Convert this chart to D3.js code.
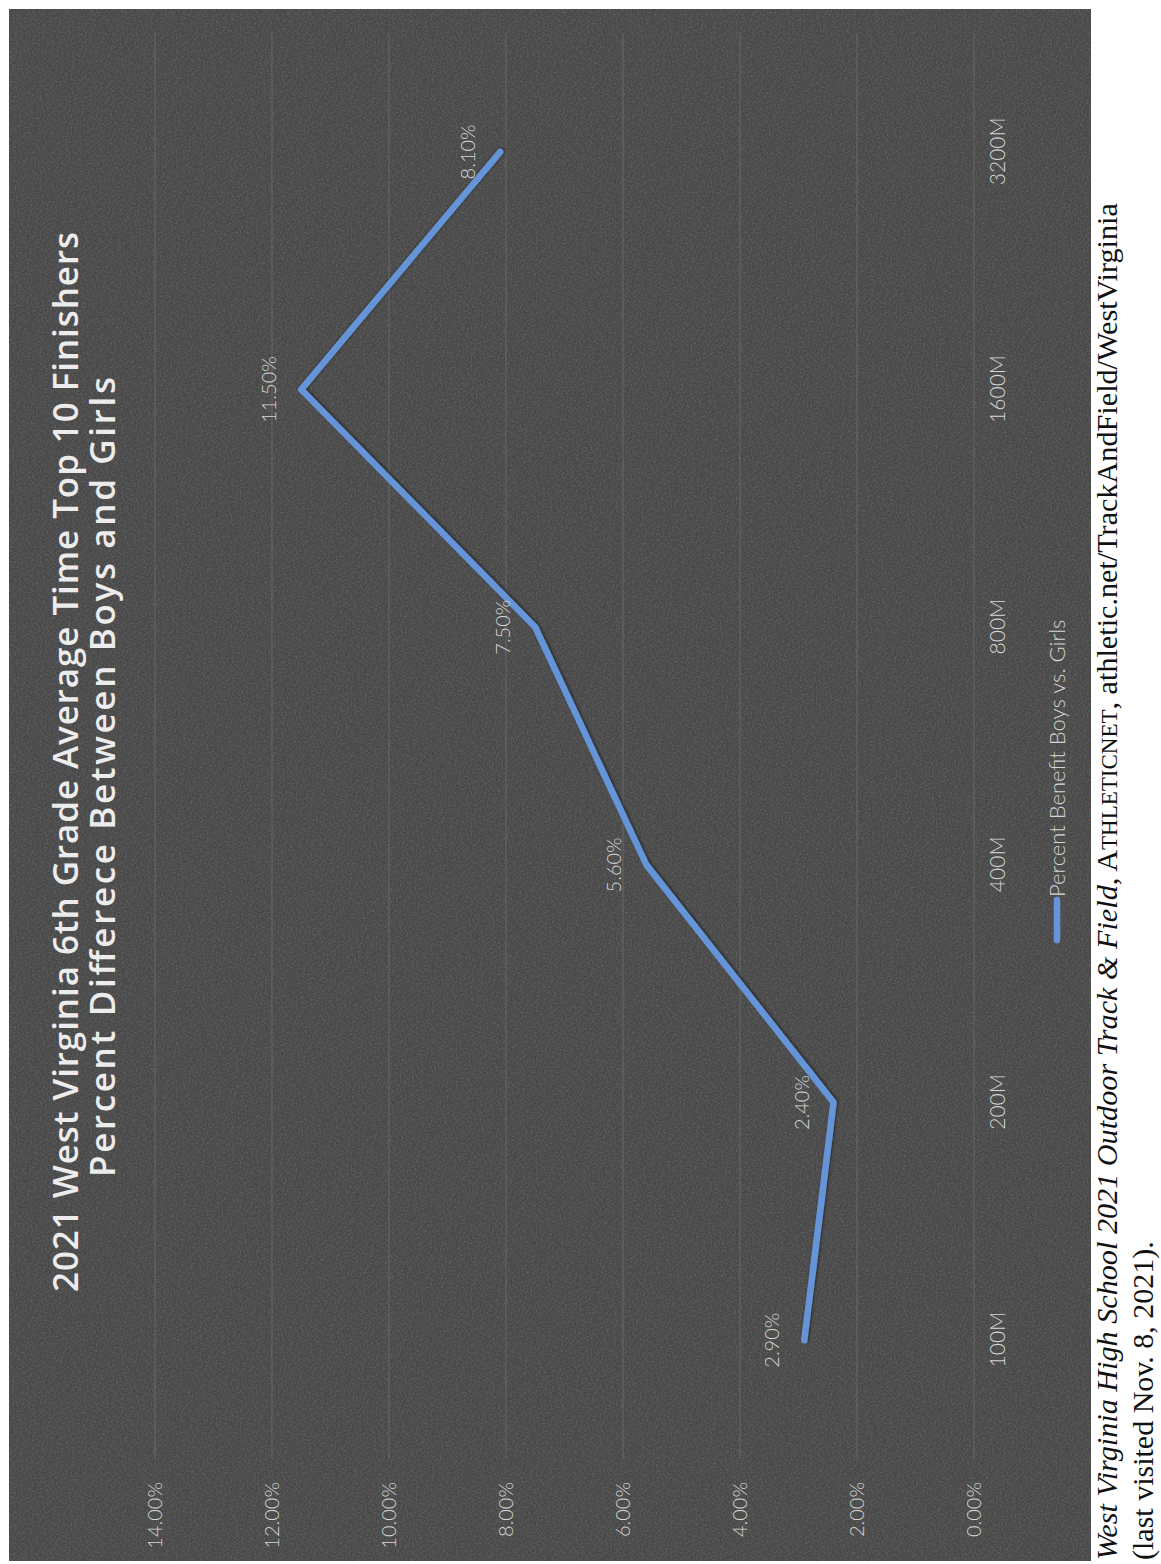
<!DOCTYPE html>
<html>
<head>
<meta charset="utf-8">
<script src="https://cdn.jsdelivr.net/npm/d3@7"></script>
<style>
  html, body { margin: 0; padding: 0; background: #ffffff; }
  svg { display: block; }
</style>
</head>
<body>
<svg id="chart" width="1161" height="1564"></svg>
<script>
// Series and axis content
const categories = ["100M", "200M", "400M", "800M", "1600M", "3200M"];
const percentBenefit = [2.9, 2.4, 5.6, 7.5, 11.5, 8.1];
const valueTicks = [0, 2, 4, 6, 8, 10, 12, 14];
const titleLines = [
  "2021 West Virginia 6th Grade Average Time Top 10 Finishers",
  "Percent Differece Between Boys and Girls"
];
const seriesName = "Percent Benefit Boys vs. Girls";

const W = 1161, H = 1564;
const svg = d3.select("#chart");

// The chart sheet is laid on its side: local u runs bottom→top, local v runs left→right.
const defs = svg.append("defs");
const grain = defs.append("filter").attr("id", "grain")
  .attr("x", 0).attr("y", 0).attr("width", 1).attr("height", 1);
grain.append("feTurbulence").attr("type", "fractalNoise")
  .attr("baseFrequency", 0.55).attr("numOctaves", 2).attr("seed", 7).attr("result", "n");
grain.append("feColorMatrix").attr("in", "n").attr("type", "matrix")
  .attr("values", "0 0 0 0 0.55  0 0 0 0 0.55  0 0 0 0 0.55  1.2 0 0 0 -0.45")
  .attr("result", "g");
grain.append("feComposite").attr("in", "g").attr("in2", "SourceGraphic").attr("operator", "in");

const shadow = defs.append("filter").attr("id", "lineShadow")
  .attr("x", -0.1).attr("y", -0.1).attr("width", 1.2).attr("height", 1.2);
shadow.append("feGaussianBlur").attr("in", "SourceAlpha").attr("stdDeviation", 1.4).attr("result", "b");
shadow.append("feOffset").attr("in", "b").attr("dx", 1.2).attr("dy", 1.2).attr("result", "o");
shadow.append("feComponentTransfer").attr("in", "o").attr("result", "s")
  .append("feFuncA").attr("type", "linear").attr("slope", 0.55);
const m = shadow.append("feMerge");
m.append("feMergeNode").attr("in", "s");
m.append("feMergeNode").attr("in", "SourceGraphic");

const g = svg.append("g").attr("transform", `translate(0,${H}) rotate(-90)`);

// Chart sheet background
const sheet = { u0: 3, u1: 1555, v0: 9, v1: 1091 };
g.append("rect")
  .attr("x", sheet.u0).attr("y", sheet.v0)
  .attr("width", sheet.u1 - sheet.u0).attr("height", sheet.v1 - sheet.v0)
  .attr("fill", "#484848");
g.append("rect")
  .attr("x", sheet.u0).attr("y", sheet.v0)
  .attr("width", sheet.u1 - sheet.u0).attr("height", sheet.v1 - sheet.v0)
  .attr("fill", "#484848").attr("opacity", 0.35)
  .attr("filter", "url(#grain)");

// Scales
const x = d3.scalePoint().domain(categories).range([105, 1531]).padding(0.5);
const y = d3.scaleLinear().domain([0, 14]).range([974, 155]);

// Gridlines
g.append("g").selectAll("line").data(valueTicks).join("line")
  .attr("x1", 105).attr("x2", 1531)
  .attr("y1", d => y(d)).attr("y2", d => y(d))
  .attr("stroke", "#666666").attr("stroke-width", 1.1);

const labelFont = "Lato, 'Open Sans', sans-serif";
const labelFill = "#d6d6d6";

// Value axis labels
const yAxis = d3.axisLeft(y).tickValues(valueTicks)
  .tickFormat(d => d.toFixed(2) + "%").tickSize(0).tickPadding(0);
const yG = g.append("g").attr("transform", "translate(82,0)").call(yAxis);
yG.select(".domain").remove();
yG.selectAll("text").attr("font-family", labelFont).attr("font-size", 20)
  .attr("fill", labelFill).attr("font-weight", 300);

// Category axis labels
const xAxis = d3.axisBottom(x).tickSize(0).tickPadding(0);
const xG = g.append("g").attr("transform", "translate(0,990)").call(xAxis);
xG.select(".domain").remove();
xG.selectAll("text").attr("font-family", labelFont).attr("font-size", 21)
  .attr("fill", labelFill).attr("font-weight", 300);

// Series line
const pts = categories.map((c, i) => ({ c, v: percentBenefit[i] }));
const line = d3.line().x(d => x(d.c)).y(d => y(d.v));
g.append("path").datum(pts)
  .attr("d", line)
  .attr("fill", "none")
  .attr("stroke", "#6595d8")
  .attr("stroke-width", 6.5)
  .attr("stroke-linejoin", "round")
  .attr("stroke-linecap", "round")
  .attr("filter", "url(#lineShadow)");

// Data labels
g.append("g").selectAll("text").data(pts).join("text")
  .attr("x", d => x(d.c))
  .attr("y", d => y(d.v) - 25)
  .attr("text-anchor", "middle")
  .attr("font-family", labelFont).attr("font-size", 20).attr("font-weight", 300)
  .attr("fill", labelFill)
  .text(d => d.v.toFixed(2) + "%");

// Title (two centred lines, fitted to the sheet's title width)
const titleCentre = [802, 787];
const titleWidth = [1060, 800];
g.append("g").selectAll("text").data(titleLines).join("text")
  .attr("x", (d, i) => titleCentre[i])
  .attr("y", (d, i) => 78 + i * 37)
  .attr("text-anchor", "middle")
  .attr("textLength", (d, i) => titleWidth[i])
  .attr("lengthAdjust", "spacing")
  .attr("font-family", "'Open Sans', Lato, sans-serif").attr("font-size", 35).attr("font-weight", 600)
  .attr("fill", "#ececec")
  .text(d => d);

// Legend
const lg = g.append("g");
lg.append("line").attr("x1", 624).attr("x2", 664).attr("y1", 1057).attr("y2", 1057)
  .attr("stroke", "#6595d8").attr("stroke-width", 6.5).attr("stroke-linecap", "round");
lg.append("text").attr("x", 667).attr("y", 1065)
  .attr("font-family", labelFont).attr("font-size", 22).attr("font-weight", 300)
  .attr("fill", labelFill).text(seriesName);

// Source note beside the chart
const serif = "'Liberation Serif', 'DejaVu Serif', serif";
const note1 = g.append("text").attr("x", 4).attr("y", 1117)
  .attr("font-family", serif).attr("font-size", 30.2).attr("fill", "#111");
note1.append("tspan").attr("font-style", "italic")
  .text("West Virginia High School 2021 Outdoor Track & Field");
note1.append("tspan").text(", ");
note1.append("tspan").text("A");
note1.append("tspan").attr("font-size", 23).text("THLETICNET");
note1.append("tspan").text(", athletic.net/TrackAndField/WestVirginia");
g.append("text").attr("x", 4).attr("y", 1153)
  .attr("font-family", serif).attr("font-size", 30).attr("fill", "#111")
  .text("(last visited Nov. 8, 2021).");
</script>
</body>
</html>
